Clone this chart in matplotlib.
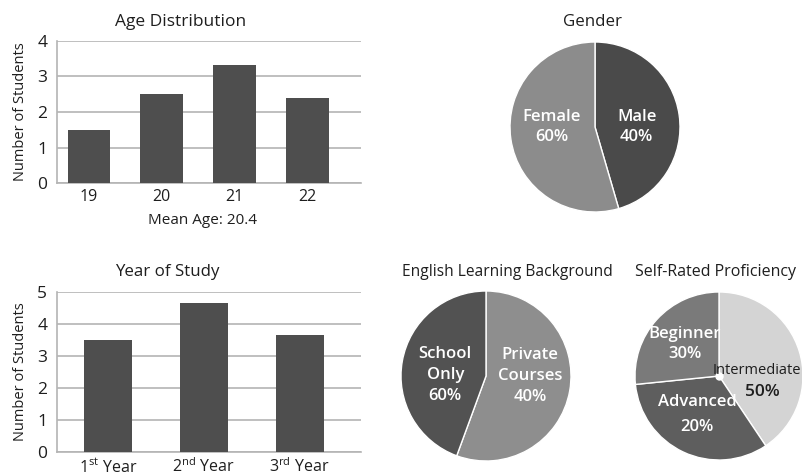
import matplotlib.pyplot as plt

plt.rcParams['font.family'] = ['Open Sans', 'DejaVu Sans']

# data
ages = ['19', '20', '21', '22']
age_counts = [1.5, 2.5, 3.33, 2.4]
years = [r'1$^{\mathregular{st}}$ Year', r'2$^{\mathregular{nd}}$ Year', r'3$^{\mathregular{rd}}$ Year']
year_counts = [3.5, 4.67, 3.67]

gender_labels = ['Male\n40%', 'Female\n60%']
gender_sizes = [45.5, 54.5]
eng_labels = ['Private\nCourses\n40%', 'School\nOnly\n60%']
eng_sizes = [55.6, 44.4]
prof_labels = ['Intermediate\n50%', 'Advanced\n20%', 'Beginner\n30%']
prof_sizes = [40.6, 32.8, 26.6]

W, H = 803, 476
fig = plt.figure(figsize=(W / 100, H / 100), dpi=100)
txt = '#1e1e1e'
grid_c = '#b4b4b4'
bar_c = '#4e4e4e'


def px_axes(x0, y0, x1, y1):
    # pixel box (top-left origin) -> axes
    return fig.add_axes([x0 / W, 1 - y1 / H, (x1 - x0) / W, (y1 - y0) / H])


def bar_panel(ax, cats, vals, ymax, width, xlim):
    ax.bar(range(len(cats)), vals, width=width, color=bar_c, zorder=3)
    ax.set_ylim(0, ymax)
    ax.set_xlim(*xlim)
    ax.set_yticks(range(ymax + 1))
    ax.set_xticks(range(len(cats)))
    ax.set_xticklabels(cats)
    ax.yaxis.grid(True, color=grid_c, lw=1.2, zorder=0)
    for s in ['top', 'right']:
        ax.spines[s].set_visible(False)
    for s in ['left', 'bottom']:
        ax.spines[s].set_color(grid_c)
        ax.spines[s].set_linewidth(1.2)
    ax.tick_params(axis='y', length=0, labelsize=12.5, colors=txt, pad=7)
    ax.tick_params(axis='x', length=0, labelsize=11.5, colors=txt, pad=4)
    ax.set_ylabel('Number of Students', fontsize=10.5, color=txt, labelpad=7)


ax1 = px_axes(57, 41, 361, 183)
bar_panel(ax1, ages, age_counts, 4, 0.59, (-0.44, 3.74))
ax2 = px_axes(57, 292, 361, 452)
bar_panel(ax2, years, year_counts, 5, 0.5, (-0.53, 2.64))


def pie_panel(ax, sizes, labels, colors, pos, tcolors, spacing=None, fs=12):
    ax.pie(sizes, colors=colors, startangle=90, counterclock=False,
           wedgeprops=dict(edgecolor='white', linewidth=1))
    ax.set_xlim(-1, 1)
    ax.set_ylim(-1, 1)
    if spacing is None:
        spacing = [1.4] * len(labels)
    for lab, (x, y), c, ls in zip(labels, pos, tcolors, spacing):
        if lab is None:
            continue
        ax.text(x, y, lab, ha='center', va='center', color=c, fontsize=fs,
                fontweight='semibold', linespacing=ls)


ax3 = px_axes(510, 42, 680, 212)
pie_panel(ax3, gender_sizes, gender_labels, ['#4a4a4a', '#8c8c8c'],
          [(0.49, 0.0), (-0.51, 0.0)], ['white', 'white'])

ax4 = px_axes(401, 291, 571, 461)
pie_panel(ax4, eng_sizes, eng_labels, ['#8e8e8e', '#525252'],
          [(0.52, 0.0), (-0.48, 0.01)], ['white', 'white'])

ax5 = px_axes(635, 292, 803, 460)
pie_panel(ax5, prof_sizes, [None] + prof_labels[1:], ['#d4d4d4', '#5e5e5e', '#7a7a7a'],
          [(0.52, -0.05), (-0.26, -0.46), (-0.41, 0.38)], [txt, 'white', 'white'],
          spacing=[1.4, 1.75, 1.35])
# intermediate label sits right against the figure edge like the reference
inter_name, inter_pct = prof_labels[0].split('\n')
ax5.text(0.98, 0.07, inter_name, ha='right', va='center', color=txt, fontsize=10.5)
ax5.text(0.52, -0.19, inter_pct, ha='center', va='center', color=txt, fontsize=12.5,
         fontweight='semibold')
ax5.plot(0, 0, 'o', color='white', ms=5)

# titles
fig.text(181 / W, 1 - 22 / H, 'Age Distribution', ha='center', va='center', fontsize=12.5, color=txt)
fig.text(593 / W, 1 - 22 / H, 'Gender', ha='center', va='center', fontsize=12.2, color=txt)
fig.text(167 / W, 1 - 272 / H, 'Year of Study', ha='center', va='center', fontsize=12.2, color=txt)
fig.text(507 / W, 1 - 272 / H, 'English Learning Background', ha='center', va='center', fontsize=11.2, color=txt)
fig.text(716 / W, 1 - 272 / H, 'Self-Rated Proficiency', ha='center', va='center', fontsize=11.5, color=txt)
fig.text(203 / W, 1 - 220 / H, 'Mean Age: 20.4', ha='center', va='center', fontsize=11, color=txt)

fig.savefig('out.png', dpi=100)
